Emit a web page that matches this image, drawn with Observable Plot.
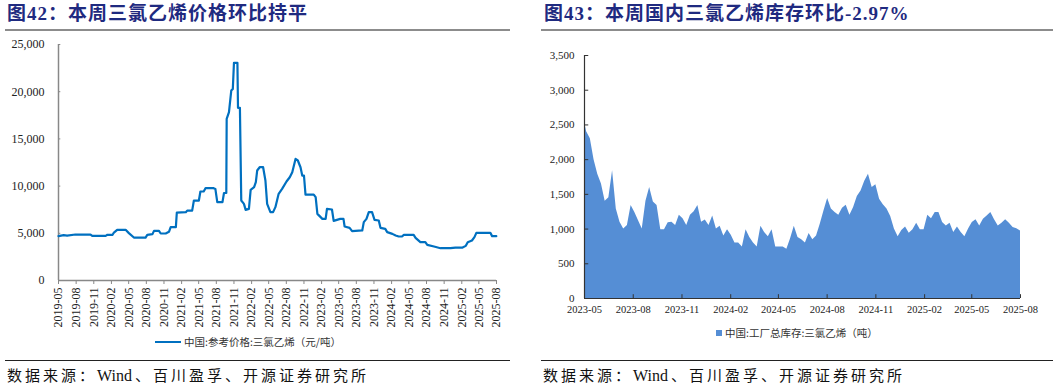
<!DOCTYPE html>
<html><head><meta charset="utf-8">
<script src="https://cdn.jsdelivr.net/npm/d3@7"></script>
<script src="https://cdn.jsdelivr.net/npm/@observablehq/plot@0.6"></script>
<style>
body{margin:0;width:1057px;height:389px;position:relative;background:#fff;overflow:hidden;font-family:"Liberation Serif","Noto Sans CJK SC",serif;}
.title{position:absolute;top:3px;font-size:19px;font-weight:bold;color:#1F2A80;letter-spacing:1px;white-space:nowrap;line-height:22px;}
.rule{position:absolute;height:0;border-top:2px solid #8c8c8c;}
.rule2{position:absolute;height:0;border-top:1.5px solid #222;}
.src{position:absolute;top:366px;font-size:15px;letter-spacing:3px;color:#111;white-space:nowrap;line-height:20px;}
.src .en{letter-spacing:0;font-size:16px;margin-right:3px;}
.legend{position:absolute;font-size:10.5px;color:#333;white-space:nowrap;display:flex;align-items:center;line-height:14px;font-family:"Noto Sans CJK SC",sans-serif;}
.chart{position:absolute;}
</style></head>
<body>
<div class="title" style="left:7px;">图42：本周三氯乙烯价格环比持平</div>
<div class="title" style="left:544px;">图43：本周国内三氯乙烯库存环比-2.97%</div>
<div class="rule" style="left:5px;top:29px;width:505px;"></div>
<div class="rule" style="left:541px;top:29px;width:512px;"></div>
<div class="chart" id="left" style="left:0;top:36px;"></div>
<div class="chart" id="right" style="left:530px;top:40px;"></div>
<div class="legend" style="left:155px;top:335px;"><span style="display:inline-block;width:26px;height:2px;background:#0070C0;margin-right:3px;"></span>中国:参考价格:三氯乙烯（元/吨）</div>
<div class="legend" style="left:716px;top:326px;"><span style="display:inline-block;width:6px;height:6px;background:#558ED5;margin-right:3px;"></span>中国:工厂总库存:三氯乙烯（吨）</div>
<div class="rule2" style="left:5px;top:360px;width:505px;"></div>
<div class="rule2" style="left:541px;top:360px;width:512px;"></div>
<div class="src" style="left:7px;">数据来源：<span class="en">Wind</span>、百川盈孚、开源证券研究所</div>
<div class="src" style="left:543px;">数据来源：<span class="en">Wind</span>、百川盈孚、开源证券研究所</div>
<script>
// ---- Left chart data: 中国:参考价格:三氯乙烯（元/吨）
const priceDates = ["2019-05-01","2019-05-28","2019-06-15","2019-07-28","2019-10-15","2019-10-24","2020-01-02","2020-01-11","2020-02-07","2020-02-14","2020-03-02","2020-04-15","2020-05-02","2020-05-28","2020-07-28","2020-08-06","2020-09-02","2020-09-10","2020-10-06","2020-10-15","2020-11-10","2020-11-27","2020-12-06","2021-01-02","2021-01-07","2021-02-23","2021-03-02","2021-03-28","2021-04-06","2021-05-02","2021-05-10","2021-05-27","2021-06-06","2021-07-18","2021-07-27","2021-08-06","2021-09-02","2021-09-10","2021-09-22","2021-09-24","2021-10-06","2021-10-18","2021-10-26","2021-11-01","2021-11-19","2021-11-22","2021-12-02","2021-12-09","2021-12-23","2022-01-01","2022-01-18","2022-01-27","2022-02-14","2022-02-23","2022-03-02","2022-03-15","2022-04-02","2022-04-14","2022-04-23","2022-05-10","2022-05-24","2022-06-05","2022-06-22","2022-07-10","2022-08-02","2022-08-19","2022-09-01","2022-09-18","2022-09-30","2022-10-14","2022-10-23","2022-11-01","2022-11-09","2022-12-22","2023-01-01","2023-01-10","2023-02-05","2023-02-22","2023-03-01","2023-03-27","2023-04-05","2023-05-09","2023-05-26","2023-06-01","2023-06-27","2023-07-10","2023-09-01","2023-09-09","2023-09-23","2023-10-05","2023-10-22","2023-11-04","2023-11-26","2023-12-05","2023-12-30","2024-01-09","2024-02-05","2024-02-22","2024-03-09","2024-03-26","2024-04-05","2024-05-26","2024-06-05","2024-06-30","2024-07-26","2024-08-05","2024-09-09","2024-10-13","2024-12-04","2024-12-30","2025-02-05","2025-02-22","2025-03-04","2025-03-26","2025-04-08","2025-04-18","2025-06-30","2025-07-09","2025-07-31"];
const priceValues = [4700,4800,4760,4870,4870,4730,4730,4840,4840,5080,5370,5370,5020,4550,4550,4840,4910,5260,5260,4980,4980,5160,5650,5650,7200,7240,7400,7400,8470,8470,9430,9430,9780,9780,9700,8300,8300,9270,9270,17130,17830,20130,20300,23060,23060,18290,18290,8470,8120,7480,7590,9600,9880,10410,11650,12000,12000,10590,8120,7240,7240,7770,9180,9700,10490,10940,11470,12880,12710,12000,11120,11120,9100,9100,8830,7060,6530,6530,7590,7520,6320,6530,6530,5720,5580,5230,5300,6180,6530,7240,7240,6430,6360,5580,5470,5120,4940,4770,4660,4660,4840,4840,4520,4060,4060,3770,3600,3420,3420,3490,3490,3670,4060,4240,4590,5050,5050,4700,4700];
const leftYTicks = [0,5000,10000,15000,20000,25000];
const leftXStart = "2019-05-01", leftXEnd = "2025-08-01";

// ---- Right chart data: 中国:工厂总库存:三氯乙烯（吨）, weekly
const stockStart = "2023-04-28";
const stockValues = [2650,2400,2300,2000,1790,1650,1400,1450,1840,1290,1100,1000,1050,1340,1240,1120,1000,1400,1600,1390,1340,990,990,1090,1100,1050,1200,1150,1050,1200,1250,1340,1100,1130,1050,1190,1000,1040,900,990,910,800,800,740,990,880,800,740,1040,950,890,990,740,740,740,710,860,1040,880,845,800,936,845,900,1070,1260,1440,1290,1240,1200,1300,1344,1200,1310,1470,1550,1690,1790,1600,1640,1430,1350,1290,1180,1000,890,980,1030,940,990,1085,990,990,1200,1150,1240,1240,1094,1046,1085,950,1030,950,890,1000,1094,1133,1046,1142,1190,1238,1133,1046,1085,1133,1085,1022,1003,973];
const rightYTicks = [0,500,1000,1500,2000,2500,3000,3500];
const rightXStart = "2023-05-01", rightXEnd = "2025-08-01";

const fmt = d3.format(",");
const priceData = priceDates.map((d,i)=>({date:new Date(d), value:priceValues[i]}));
const stockData = stockValues.map((v,i)=>({date:d3.utcDay.offset(new Date(stockStart), 7*i), value:v}));

const lx0 = new Date(leftXStart), lx1 = new Date(leftXEnd);
const leftXTicks = d3.utcMonth.range(lx0, d3.utcDay.offset(lx1,1), 3);
const left = Plot.plot({
  width:530, height:300, marginLeft:58, marginRight:34, marginTop:8, marginBottom:56,
  x:{type:"utc", domain:[lx0,lx1]},
  y:{domain:[0,25000]},
  style:{fontFamily:"Liberation Serif", fontSize:"12px", color:"#222", background:"transparent", overflow:"visible"},
  marks:[
    Plot.axisY({ticks:leftYTicks, tickFormat:fmt, tickSize:0, tickPadding:14, fontSize:12, label:null}),
    Plot.axisX({ticks:leftXTicks, tickFormat:d3.utcFormat("%Y-%m"), tickRotate:-90, tickSize:4, tickPadding:3, stroke:"#888", fontSize:12, label:null}),
    Plot.ruleY(leftYTicks, {x1:lx0, x2:d3.utcDay.offset(lx0,12), stroke:"#888"}),
    Plot.ruleX([lx0], {stroke:"#888", strokeWidth:1.5}),
    Plot.ruleY([0], {stroke:"#888", strokeWidth:1.5}),
    Plot.line(priceData, {x:"date", y:"value", stroke:"#0070C0", strokeWidth:2.2})
  ]
});
document.getElementById("left").appendChild(left);

const rx0 = new Date(rightXStart), rx1 = new Date(rightXEnd);
const rightXTicks = d3.utcMonth.range(rx0, d3.utcDay.offset(rx1,1), 3);
const right = Plot.plot({
  width:527, height:290, marginLeft:54, marginRight:37, marginTop:15, marginBottom:32,
  x:{type:"utc", domain:[rx0,rx1]},
  y:{domain:[0,3500]},
  style:{fontFamily:"Liberation Serif", fontSize:"11px", color:"#222", background:"transparent", overflow:"visible"},
  marks:[
    Plot.areaY(stockData, {x:"date", y:"value", fill:"#558ED5", clip:true}),
    Plot.axisY({ticks:rightYTicks, tickFormat:fmt, tickSize:0, tickPadding:10, fontSize:11, label:null}),
    Plot.axisX({ticks:rightXTicks, tickFormat:d3.utcFormat("%Y-%m"), tickSize:0, tickPadding:7, fontSize:10.5, label:null}),
    Plot.ruleY(rightYTicks, {x1:rx0, x2:d3.utcDay.offset(rx0,8), stroke:"#333"}),
    Plot.ruleX(rightXTicks, {y1:0, y2:55, stroke:"#333"}),
    Plot.ruleX([rx0], {stroke:"#333", strokeWidth:1.2}),
    Plot.ruleY([0], {stroke:"#333", strokeWidth:1.2})
  ]
});
document.getElementById("right").appendChild(right);
</script>
</body></html>
